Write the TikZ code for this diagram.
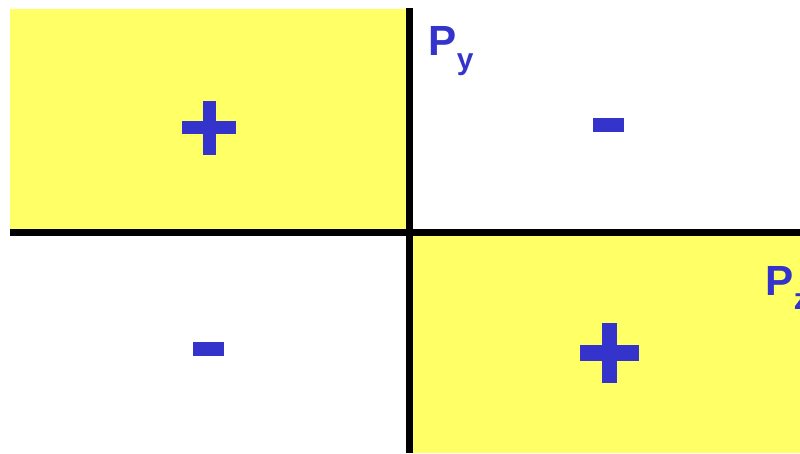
\documentclass[tikz,border=0pt]{standalone}
\usepackage{fontspec}
\setmainfont{Liberation Sans}
\definecolor{lobeyellow}{HTML}{FFFF66}
\definecolor{signblue}{HTML}{3434CC}
\tikzset{
  lobe/.style={fill=lobeyellow, draw=none},
  axisline/.style={draw=black, line width=0.07cm},
  signbar/.style={fill=signblue, draw=none},
  orblabel/.style={font=\fontsize{12}{14}\selectfont\bfseries, text=signblue,
    inner sep=0pt, anchor=base west},
}
\begin{document}
\begin{tikzpicture}[x=0.01cm, y=-0.01cm]
\useasboundingbox (0,0) rectangle (800,453);
\clip (0,0) rectangle (800,453);
% yellow lobes
\fill[lobe] (10,9) rectangle (409,232);
\fill[lobe] (409,232) rectangle (800,453);
% axes
\draw[axisline] (10,232.8) -- (800,232.8);
\draw[axisline] (409.6,8) -- (409.6,453);
% signs: upper left and lower right
\fill[signbar] (202.5,101) rectangle (215.5,155);
\fill[signbar] (182.3,121.2) rectangle (236,134.4);
\fill[signbar] (602,323.3) rectangle (616.7,382.7);
\fill[signbar] (580,345) rectangle (639.3,360.7);
% signs: upper right and lower left
\fill[signbar] (593.3,117.7) rectangle (624,132);
\fill[signbar] (193.3,341.7) rectangle (224,356);
% orbital labels
\node[orblabel] (py) at (428,55) {P\raisebox{-0.65ex}{\fontsize{8.5}{10}\selectfont y}};
\node[orblabel] (pz) at (765,295) {P\raisebox{-0.65ex}{\fontsize{8.5}{10}\selectfont z}};
\end{tikzpicture}
\end{document}
